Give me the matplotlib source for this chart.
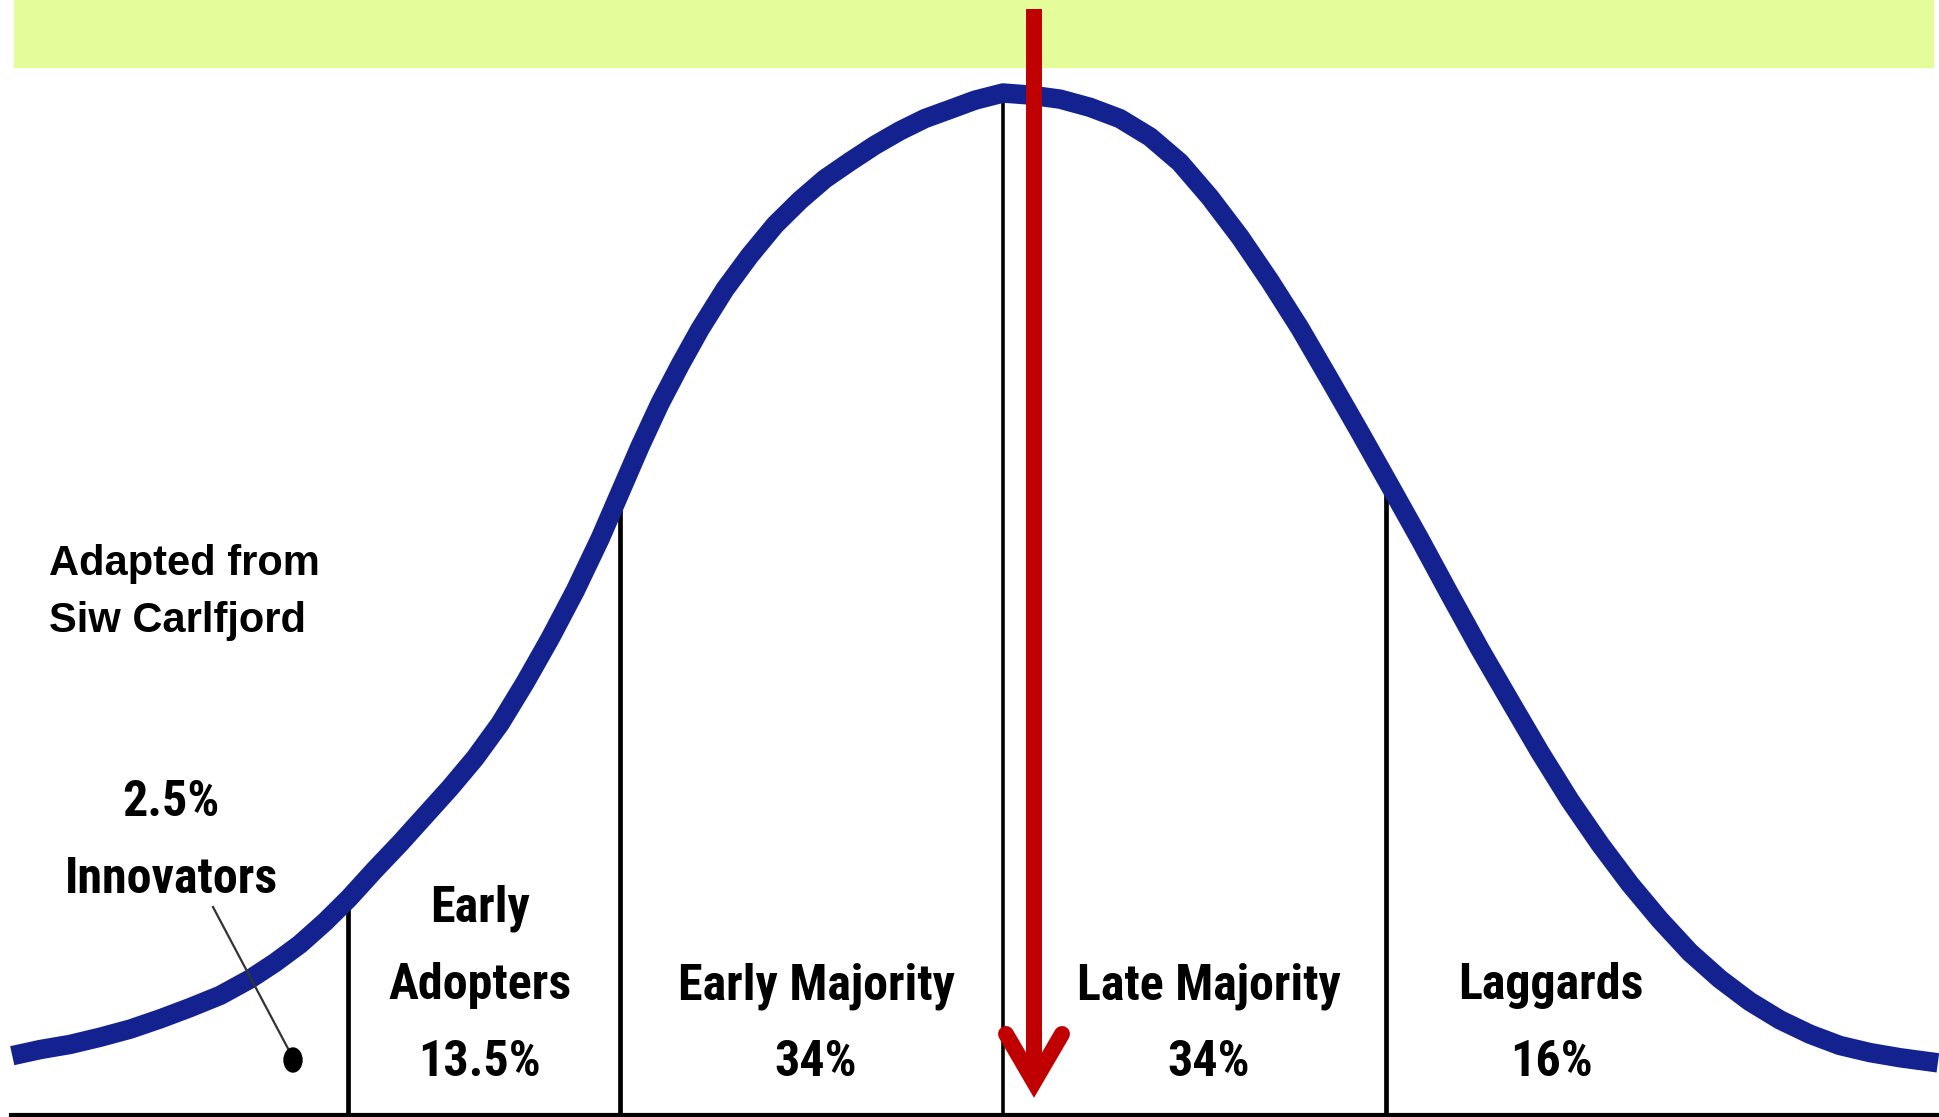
import numpy as np
import matplotlib.pyplot as plt
from matplotlib.patches import Rectangle, Ellipse

# Bell curve.
# x: standard deviations from the mean, y: height relative to the peak
curve_x = [-2.587, -2.514, -2.436, -2.358, -2.279, -2.201, -2.123, -2.044, -1.966, -1.901,
           -1.836, -1.770, -1.708, -1.640, -1.574, -1.509, -1.444, -1.379, -1.313, -1.248,
           -1.183, -1.117, -1.052, -1.000, -0.948, -0.896, -0.843, -0.791, -0.726, -0.661,
           -0.595, -0.530, -0.465, -0.399, -0.334, -0.269, -0.204, -0.138, -0.073, 0.000,
           0.070, 0.149, 0.227, 0.305, 0.384, 0.462, 0.540, 0.619, 0.697, 0.775,
           0.854, 0.932, 1.010, 1.089, 1.167, 1.245, 1.324, 1.402, 1.480, 1.559,
           1.637, 1.715, 1.794, 1.872, 1.950, 2.029, 2.107, 2.185, 2.264, 2.342, 2.441]
curve_y = [0.058, 0.064, 0.069, 0.076, 0.084, 0.094, 0.105, 0.117, 0.133, 0.149,
           0.167, 0.189, 0.212, 0.240, 0.266, 0.293, 0.320, 0.349, 0.383, 0.423,
           0.466, 0.513, 0.564, 0.609, 0.654, 0.696, 0.734, 0.769, 0.808, 0.841,
           0.871, 0.895, 0.916, 0.933, 0.949, 0.963, 0.975, 0.984, 0.993, 1.000,
           0.998, 0.994, 0.986, 0.975, 0.957, 0.932, 0.898, 0.859, 0.816, 0.770,
           0.719, 0.668, 0.616, 0.563, 0.509, 0.456, 0.405, 0.355, 0.308, 0.265,
           0.226, 0.191, 0.159, 0.133, 0.111, 0.093, 0.079, 0.068, 0.061, 0.056, 0.051]

# adopter categories
bounds = [-1.71, -1.0, 0.0, 1.0]
names = ["Innovators", "Early\nAdopters", "Early Majority", "Late Majority", "Laggards"]
shares = ["2.5%", "13.5%", "34%", "34%", "16%"]

W, H = 1939, 1117
fig = plt.figure(figsize=(W / 100, H / 100), dpi=100)
ax = fig.add_axes([0, 0, 1, 1])
ax.set_xlim(-2.619, 2.444)
ax.set_ylim(-0.002, 1.091)
ax.axis("off")


def fx(px):
    return px / W


def fy(py):
    return 1 - py / H


# green band on top
fig.patches.append(Rectangle((fx(14), fy(67)), fx(1933) - fx(14), fy(0) - fy(67),
                             transform=fig.transFigure, color="#e4fc9a", zorder=0))

# curve
ax.plot(curve_x, curve_y, color="#13228f", lw=14, solid_joinstyle="round",
        solid_capstyle="butt", zorder=3)

# category separators
tops = np.interp(bounds, curve_x, curve_y)
for b, t in zip(bounds, tops):
    ax.plot([b, b], [0, t], color="black", lw=3.4 if b != 0 else 2.6, zorder=2)

# baseline
ax.plot([-2.59, 2.444], [0, 0], color="black", lw=3.0, zorder=2)

# red arrow
red = "#c00000"
fig.add_artist(plt.Line2D([fx(1034), fx(1034)], [fy(9), fy(1075)], color=red,
                          lw=11.5, solid_capstyle="butt", transform=fig.transFigure, zorder=5))
fig.add_artist(plt.Line2D([fx(1006), fx(1034), fx(1062)], [fy(1034), fy(1082), fy(1034)],
                          color=red, lw=11.5, solid_capstyle="round", solid_joinstyle="miter",
                          transform=fig.transFigure, zorder=5))

# innovators pointer
fig.add_artist(plt.Line2D([fx(213), fx(293)], [fy(907), fy(1058)], color="#333333",
                          lw=1.6, transform=fig.transFigure, zorder=4))
fig.patches.append(Ellipse((fx(293), fy(1060)), 18 / W, 24 / H, transform=fig.transFigure,
                           color="black", zorder=4))

narrow = ["Liberation Sans Narrow", "Roboto Condensed", "DejaVu Sans Condensed",
          "Liberation Sans", "DejaVu Sans"]
kw = dict(family=narrow, fontsize=36, fontweight="bold", fontstretch="condensed",
          ha="center", va="baseline", transform=fig.transFigure)

fig.text(fx(171), fy(816), shares[0], **kw)
fig.text(fx(171), fy(893), names[0], **kw)

label_x = [480, 816, 1209, 1551]
for i, lx in enumerate(label_x, start=1):
    lines = names[i].split("\n")
    if len(lines) == 2:
        fig.text(fx(lx), fy(921), lines[0], **kw)
    fig.text(fx(lx), fy(999), lines[-1], **kw)
    fig.text(fx(lx), fy(1076), shares[i], **kw)

bold = dict(family=["Liberation Sans", "DejaVu Sans"], fontsize=30, fontweight="bold",
            ha="left", va="baseline", transform=fig.transFigure)
fig.text(fx(49), fy(575), "Adapted from", **bold)
fig.text(fx(49), fy(632), "Siw Carlfjord", **bold)

fig.savefig("out.png", dpi=100)
